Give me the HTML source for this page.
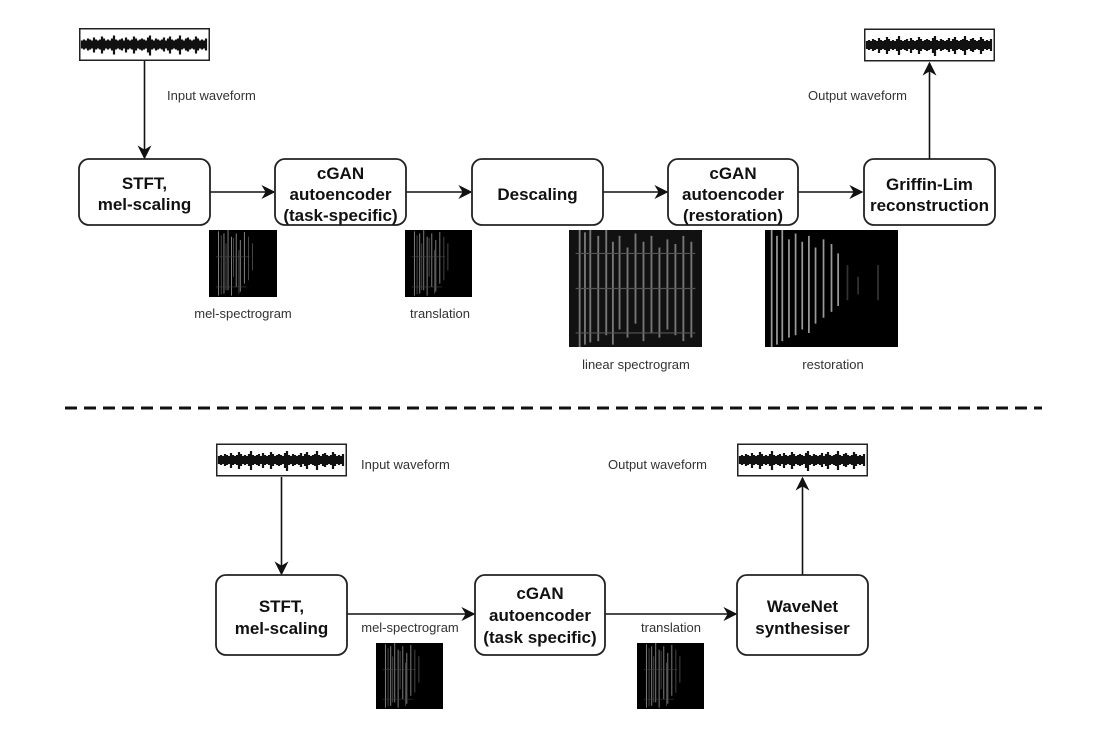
<!DOCTYPE html>
<html><head><meta charset="utf-8"><style>
body{margin:0;background:#fff;}
svg{display:block;}
.b{font-family:"Liberation Sans",sans-serif;font-weight:bold;font-size:17px;fill:#111;text-anchor:middle;}
.l{font-family:"Liberation Sans",sans-serif;font-size:13px;fill:#333;}
.bx{fill:#fff;stroke:#222;stroke-width:1.8;}
.ln{stroke:#111;stroke-width:1.6;fill:none;}
</style></head><body>
<svg width="1102" height="735" viewBox="0 0 1102 735" xmlns="http://www.w3.org/2000/svg">
<defs>
<marker id="ah" viewBox="0 0 10 10" refX="9" refY="5" markerWidth="14" markerHeight="14" orient="auto" markerUnits="userSpaceOnUse"><path d="M0,0 L10,5 L0,10 L3,5 z" fill="#111"/></marker>
<symbol id="wave" viewBox="0 0 131 33">
<rect x="0.75" y="0.75" width="129.5" height="31.5" fill="#fff" stroke="#222" stroke-width="1.5"/>
<path stroke="#111" stroke-width="2.2" d="M3 12.5V20.5M5 11.5V21.5M7 12.5V20.5M9 10.5V22.5M11 11.5V21.5M13 12.5V20.5M15 9.5V24.5M17 11.5V21.5M19 12.5V20.5M21 11.5V21.5M23 8.5V25.5M25 10.5V22.5M27 12.5V20.5M29 11.5V21.5M31 12.5V20.5M33 10.5V22.5M35 7.5V26.5M37 11.5V21.5M39 12.5V20.5M41 11.5V21.5M43 10.5V22.5M45 12.5V20.5M47 9.5V24.5M49 11.5V21.5M51 12.5V20.5M53 11.5V21.5M55 8.5V25.5M57 10.5V22.5M59 12.5V20.5M61 11.5V21.5M63 10.5V22.5M65 11.5V21.5M67 12.5V20.5M69 9.5V24.5M71 7.5V27.5M73 11.5V21.5M75 12.5V20.5M77 10.5V22.5M79 11.5V21.5M81 12.5V20.5M83 11.5V21.5M85 9.5V23.5M87 12.5V20.5M89 10.5V22.5M91 8.5V25.5M93 11.5V21.5M95 12.5V20.5M97 11.5V21.5M99 10.5V22.5M101 7.5V26.5M103 11.5V21.5M105 12.5V20.5M107 10.5V22.5M109 9.5V23.5M111 11.5V21.5M113 12.5V20.5M115 11.5V21.5M117 8.5V25.5M119 10.5V22.5M121 12.5V20.5M123 11.5V21.5M125 12.5V20.5M127 10.5V22.5"/>
</symbol>
<symbol id="spec" viewBox="0 0 100 100" preserveAspectRatio="none">
<rect width="100" height="100" fill="#000"/>
<g fill="none" stroke-width="1.2">
<path d="M14 2V98M22 5V95M28 0V90M33 10V98M40 5V85M46 15V92M52 3V80" stroke="#999"/>
<path d="M18 8V96M25 20V90M36 12V70M44 30V95M58 10V75M64 20V60" stroke="#555"/>
<path d="M10 40H60M10 85H55" stroke="#444" stroke-width="0.8"/>
</g>
</symbol>
<symbol id="spec2" viewBox="0 0 100 100" preserveAspectRatio="none">
<rect width="100" height="100" fill="#111"/>
<g stroke="#777" stroke-width="1.4" fill="none">
<path d="M8 0V100M12 2V98M16 0V96M22 5V95M28 0V90M33 10V98M38 5V85M44 15V92M50 3V80M56 10V95M62 5V88M68 15V92M74 8V85M80 12V90M86 5V95M92 10V92"/>
<path d="M5 20H95M5 50H95M5 88H95" stroke="#555" stroke-width="1"/>
</g>
</symbol>
<symbol id="spec3" viewBox="0 0 100 100" preserveAspectRatio="none">
<rect width="100" height="100" fill="#000"/>
<g stroke="#999" stroke-width="1.3" fill="none">
<path d="M5 0V100M9 5V98M13 0V95M18 8V92M23 3V90M28 10V85M33 5V88M38 15V80M44 8V75M50 12V70M55 20V65"/>
<path d="M62 30V60M70 40V55M85 30V60" stroke="#333"/>
</g>
</symbol>
</defs>

<use href="#wave" x="79" y="28" width="131" height="33"/>
<use href="#wave" x="864" y="28" width="131" height="34"/>
<text class="l" x="167" y="100">Input waveform</text>
<text class="l" x="808" y="100">Output waveform</text>

<line class="ln" x1="144.5" y1="61" x2="144.5" y2="158" marker-end="url(#ah)"/>
<line class="ln" x1="929.5" y1="159" x2="929.5" y2="63" marker-end="url(#ah)"/>
<line class="ln" x1="210" y1="192" x2="274" y2="192" marker-end="url(#ah)"/>
<line class="ln" x1="406" y1="192" x2="471" y2="192" marker-end="url(#ah)"/>
<line class="ln" x1="603" y1="192" x2="667" y2="192" marker-end="url(#ah)"/>
<line class="ln" x1="798" y1="192" x2="862" y2="192" marker-end="url(#ah)"/>

<rect class="bx" x="79" y="159" width="131" height="66" rx="10"/>
<rect class="bx" x="275" y="159" width="131" height="66" rx="10"/>
<rect class="bx" x="472" y="159" width="131" height="66" rx="10"/>
<rect class="bx" x="668" y="159" width="130" height="66" rx="10"/>
<rect class="bx" x="864" y="159" width="131" height="66" rx="10"/>

<text class="b" x="144.5" y="189">STFT,</text>
<text class="b" x="144.5" y="210">mel-scaling</text>
<text class="b" x="340.5" y="179">cGAN</text>
<text class="b" x="340.5" y="200">autoencoder</text>
<text class="b" x="340.5" y="221">(task-specific)</text>
<text class="b" x="537.5" y="200">Descaling</text>
<text class="b" x="733" y="179">cGAN</text>
<text class="b" x="733" y="200">autoencoder</text>
<text class="b" x="733" y="221">(restoration)</text>
<text class="b" x="929.5" y="190">Griffin-Lim</text>
<text class="b" x="929.5" y="211">reconstruction</text>

<use href="#spec" x="209" y="230" width="68" height="67"/>
<use href="#spec" x="405" y="230" width="67" height="67"/>
<use href="#spec2" x="569" y="230" width="133" height="117"/>
<use href="#spec3" x="765" y="230" width="133" height="117"/>
<text class="l" x="243" y="318" text-anchor="middle">mel-spectrogram</text>
<text class="l" x="440" y="318" text-anchor="middle">translation</text>
<text class="l" x="636" y="369" text-anchor="middle">linear spectrogram</text>
<text class="l" x="833" y="369" text-anchor="middle">restoration</text>

<line x1="65" y1="408" x2="1042" y2="408" stroke="#111" stroke-width="3" stroke-dasharray="12,7"/>

<use href="#wave" x="216" y="443" width="131" height="34"/>
<use href="#wave" x="737" y="443" width="131" height="34"/>
<text class="l" x="361" y="469">Input waveform</text>
<text class="l" x="608" y="469">Output waveform</text>

<line class="ln" x1="281.5" y1="477" x2="281.5" y2="574" marker-end="url(#ah)"/>
<line class="ln" x1="802.5" y1="575" x2="802.5" y2="478" marker-end="url(#ah)"/>
<line class="ln" x1="347" y1="614" x2="474" y2="614" marker-end="url(#ah)"/>
<line class="ln" x1="605" y1="614" x2="736" y2="614" marker-end="url(#ah)"/>

<rect class="bx" x="216" y="575" width="131" height="80" rx="10"/>
<rect class="bx" x="475" y="575" width="130" height="80" rx="10"/>
<rect class="bx" x="737" y="575" width="131" height="80" rx="10"/>

<text class="b" x="281.5" y="612">STFT,</text>
<text class="b" x="281.5" y="634">mel-scaling</text>
<text class="b" x="540" y="599">cGAN</text>
<text class="b" x="540" y="621">autoencoder</text>
<text class="b" x="540" y="643">(task specific)</text>
<text class="b" x="802.5" y="612">WaveNet</text>
<text class="b" x="802.5" y="634">synthesiser</text>

<text class="l" x="410" y="632" text-anchor="middle">mel-spectrogram</text>
<text class="l" x="671" y="632" text-anchor="middle">translation</text>
<use href="#spec" x="376" y="643" width="67" height="66"/>
<use href="#spec" x="637" y="643" width="67" height="66"/>
</svg>
</body></html>
